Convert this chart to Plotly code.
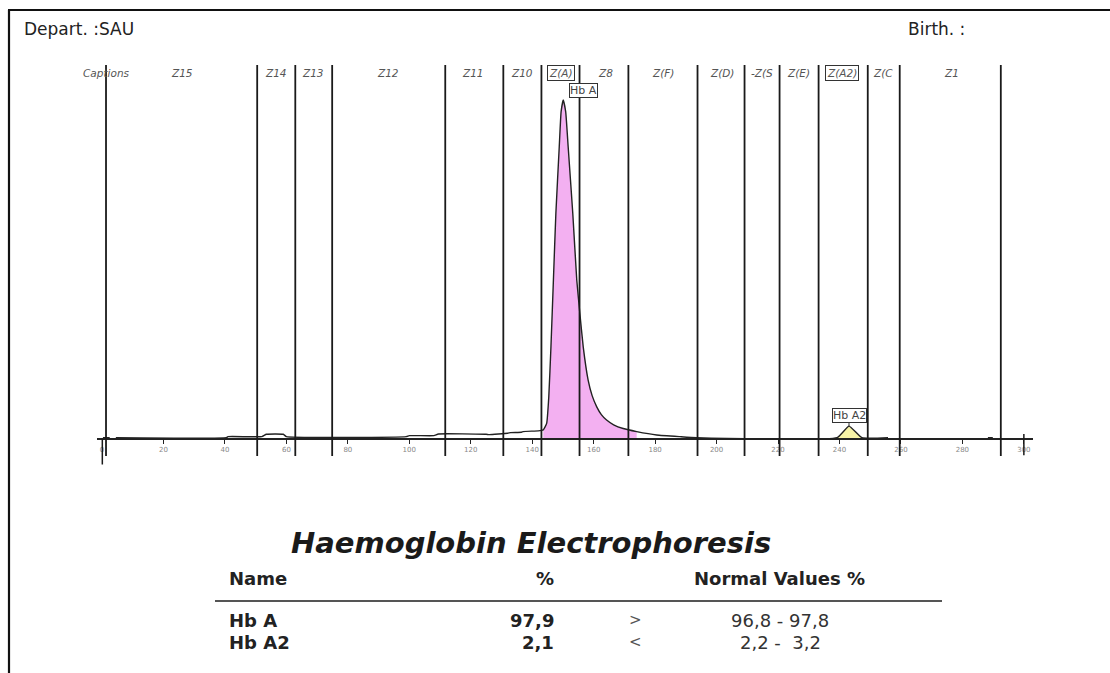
import plotly.graph_objects as go

W, H = 1110, 673

# ---- data ----
trace_x = [0.3, 2.5, None, 4.5, 40.5, 41, 52, 53.5, 59, 60, 99, 100, 108, 109.5, 125, 126, 132, 133,
           136.5, 137, 142, 143.6, 144.7, 145.4, 146.1, 146.9, 147.7, 148.8, 149.4, 150.1, 150.9,
           151.7, 153.2, 154.5, 155.5, 156.6, 158.2, 159.5, 161.0, 162.5, 164.2, 166.5, 169.6, 174.0, 180.5, 188.1,
           193.5, 239.2, 243.1, 247.3, 255.8, None, 288.3, 289.9]
trace_y = [0.4, 0.4, None, 0.4, 0.4, 0.7, 0.7, 1.4, 1.4, 0.7, 0.7, 1.0, 1.0, 1.5, 1.4, 1.3, 1.7, 1.9,
           2.0, 2.2, 2.4, 2.7, 4.6, 12.5, 27.2, 46.9, 66.6, 86.2, 96.5, 100, 96.5,
           86.2, 66.6, 46.9, 37.1, 27.2, 17.4, 12.8, 9.5, 7.2, 5.6, 4.2, 3.1, 2.2, 1.2, 0.7,
           0.4, 0.4, 3.8, 0.4, 0.4, None, 0.4, 0.4]

hba_range = [143.6, 174.0]
hba2_range = [239.2, 247.3]

zone_bounds = [1.3, 50.5, 62.9, 74.9, 111.7, 130.6, 143.0, 155.4, 171.3, 193.8, 209.1,
               220.5, 233.2, 249.2, 259.6, 292.5]
zone_labels = ["Captions", "Z15", "Z14", "Z13", "Z12", "Z11", "Z10", "Z(A)", "Z8", "Z(F)",
               "Z(D)", "-Z(S", "Z(E)", "Z(A2)", "Z(C", "Z1"]
zone_label_x = [1.6, 26.0, 56.6, 68.7, 93.1, 120.7, 136.7, 149.4, 163.7, 182.6,
                201.8, 214.8, 226.5, 240.8, 254.1, 276.6]
boxed_zones = ["Z(A)", "Z(A2)"]

tick_vals = list(range(0, 301, 20))

fractions = ["Hb A", "Hb A2"]
fraction_pct = ["97,9", "2,1"]
fraction_cmp = [">", "<"]
normal_values = ["96,8 - 97,8", "2,2 -  3,2"]
peak_label_x = [156.8, 243.1]
peak_label_py = [90.5, 415]


def py(p):
    return 1 - p / H


def px(p):
    return p / W


fig = go.Figure()


def subset(lo, hi):
    xs, ys = [], []
    for a, b in zip(trace_x, trace_y):
        if a is not None and lo <= a <= hi:
            xs.append(a)
            ys.append(b)
    return xs, ys


fx, fy = subset(*hba_range)
fig.add_trace(go.Scatter(x=fx, y=fy, fill="tozeroy", fillcolor="#f3b0f1", mode="none",
                         hoverinfo="skip", showlegend=False))
fx2, fy2 = subset(*hba2_range)
fig.add_trace(go.Scatter(x=fx2, y=fy2, fill="tozeroy", fillcolor="#f6f2a6", mode="none",
                         hoverinfo="skip", showlegend=False))
fig.add_trace(go.Scatter(x=trace_x, y=trace_y, mode="lines", connectgaps=False,
                         line=dict(color="#222222", width=1.4, shape="spline", smoothing=0.4),
                         showlegend=False))

shapes = []
for b in zone_bounds:
    shapes.append(dict(type="line", xref="x", yref="y", x0=b, x1=b, y0=-5.0, y1=110.3,
                       line=dict(color="#1a1a1a", width=1.8)))
shapes.append(dict(type="line", xref="x", yref="y", x0=0.1, x1=0.1, y0=0, y1=-7.5,
                   line=dict(color="#1a1a1a", width=1.5)))
shapes.append(dict(type="line", xref="x", yref="y", x0=300, x1=300, y0=1.5, y1=-4.8,
                   line=dict(color="#1a1a1a", width=1.5)))
shapes.append(dict(type="line", xref="x", yref="paper", x0=peak_label_x[1], x1=peak_label_x[1],
                   y0=py(421), y1=py(426), line=dict(color="#333", width=1)))
shapes.append(dict(type="line", xref="paper", yref="paper", x0=px(8), x1=1.0, y0=py(10), y1=py(10),
                   line=dict(color="#111", width=2.2)))
shapes.append(dict(type="line", xref="paper", yref="paper", x0=px(9), x1=px(9), y0=py(10), y1=0,
                   line=dict(color="#111", width=2.2)))
shapes.append(dict(type="line", xref="paper", yref="paper", x0=px(215), x1=px(942), y0=py(601), y1=py(601),
                   line=dict(color="#555", width=2)))

ann = []
for lab, lx in zip(zone_labels, zone_label_x):
    boxed = lab in boxed_zones
    ann.append(dict(x=lx, y=py(73), xref="x", yref="paper", text="<i>" + lab + "</i>",
                    showarrow=False, xanchor="center", yanchor="middle",
                    font=dict(family="DejaVu Sans", size=10.5, color="#555"),
                    bordercolor="#333" if boxed else None, borderwidth=1 if boxed else 0,
                    borderpad=1, bgcolor="white" if boxed else None))
for lab, lx, lpy in zip(fractions, peak_label_x, peak_label_py):
    ann.append(dict(x=lx, y=py(lpy), xref="x", yref="paper", text=lab, showarrow=False,
                    xanchor="center", yanchor="middle",
                    font=dict(family="DejaVu Sans", size=11, color="#444"),
                    bordercolor="#333", borderwidth=1, borderpad=0, bgcolor="white"))


def txt(x, y, text, font, xanchor="center"):
    ann.append(dict(x=px(x), y=py(y), xref="paper", yref="paper", text=text, showarrow=False,
                    xanchor=xanchor, yanchor="middle", font=font))


hdr_font = dict(family="DejaVu Sans", size=17, color="#222")
txt(22, 29, "Depart. :SAU", hdr_font, "left")
txt(906, 29, "Birth. :", hdr_font, "left")
txt(531, 543, "<b><i>Haemoglobin Electrophoresis</i></b>",
    dict(family="DejaVu Sans", size=29, color="#1a1a1a"))

tb = dict(family="DejaVu Sans", size=18, color="#222")
tn = dict(family="DejaVu Sans", size=18, color="#333")
txt(227, 578, "<b>Name</b>", tb, "left")
txt(545, 578, "<b>%</b>", tb)
txt(779, 578, "<b>Normal Values %</b>", tb)
row_y = [620, 642]
for name, pct, cmp_, nv, ry in zip(fractions, fraction_pct, fraction_cmp, normal_values, row_y):
    txt(227, ry, "<b>" + name + "</b>", tb, "left")
    txt(556, ry, "<b>" + pct + "</b>", tb, "right")
    txt(635, ry, cmp_, dict(family="DejaVu Sans", size=15, color="#555"))
    txt(780, ry, nv, tn)

fig.update_layout(
    width=W, height=H, margin=dict(l=0, r=0, t=0, b=0),
    paper_bgcolor="white", plot_bgcolor="white",
    shapes=shapes, annotations=ann, showlegend=False,
    xaxis=dict(range=[-1.7, 303], domain=[0.0872, 0.9307], anchor="free", position=py(439),
               showline=True, linecolor="#222", linewidth=1.6, ticks="outside", ticklen=4,
               tickcolor="#222", tickvals=tick_vals,
               tickfont=dict(family="DejaVu Sans", size=7, color="#888"),
               showgrid=False, zeroline=False, fixedrange=True),
    yaxis=dict(range=[-12, 115], domain=[0.2872, 0.9270], visible=False, fixedrange=True),
)

fig.write_html("out.html")
